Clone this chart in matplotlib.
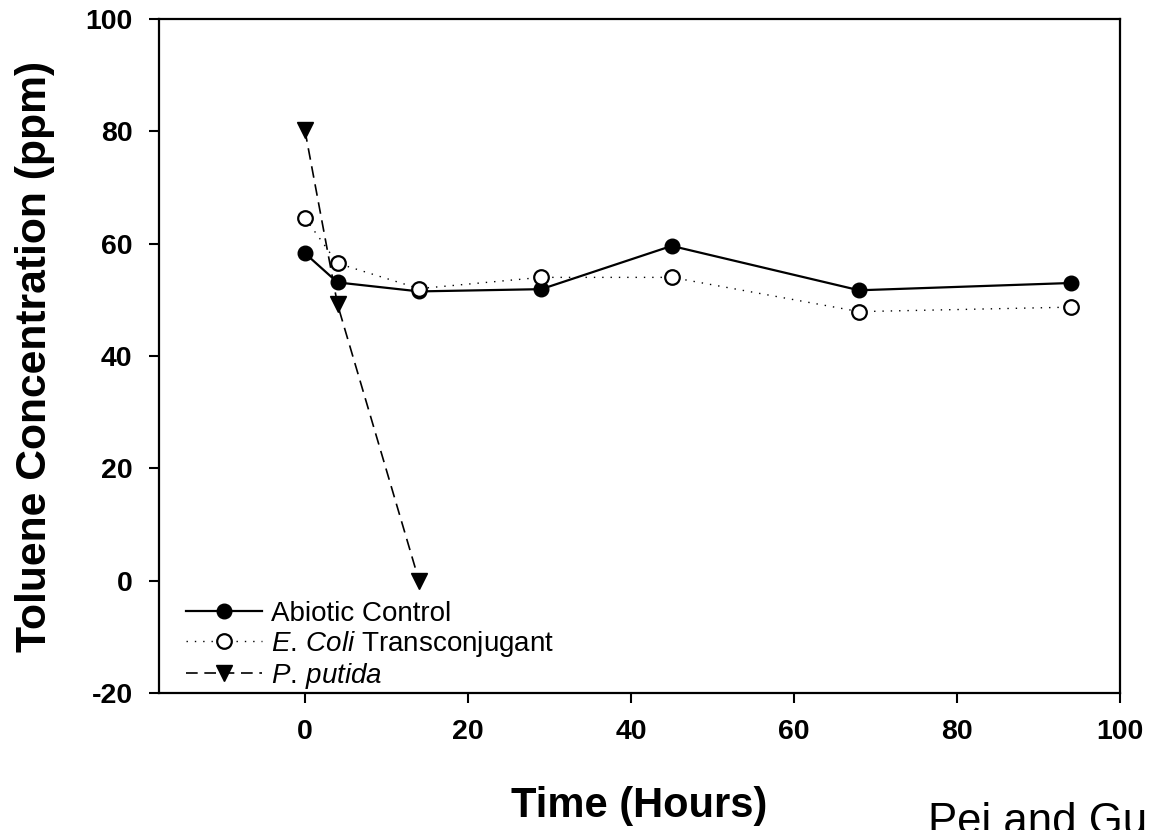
import numpy as np
import matplotlib
matplotlib.use('Agg')
import matplotlib.pyplot as plt

plt.rcParams['font.family'] = ['Liberation Sans', 'DejaVu Sans']
plt.rcParams['mathtext.fontset'] = 'custom'
plt.rcParams['mathtext.rm'] = 'Liberation Sans'
plt.rcParams['mathtext.it'] = 'Liberation Sans:italic'
plt.rcParams['axes.unicode_minus'] = False

# sampling times (hours) and toluene concentrations (ppm)
t_abiotic = [0, 4, 14, 29, 45, 68, 94]
c_abiotic = [58.3, 53.1, 51.5, 51.9, 59.6, 51.7, 53.0]
t_ecoli = [0, 4, 14, 29, 45, 68, 94]
c_ecoli = [64.6, 56.5, 52.0, 54.0, 54.0, 47.9, 48.7]
t_putida = [0, 4, 14]
c_putida = [80.2, 49.2, 0.0]

labels = ['Abiotic Control', r'$\mathit{E.\,Coli}$ Transconjugant', r'$\mathit{P.\,putida}$']
xticks = [0, 20, 40, 60, 80, 100]
yticks = [-20, 0, 20, 40, 60, 80, 100]

fig = plt.figure(figsize=(11.5, 8.3), dpi=100)
ax = fig.add_axes([159/1150, 1-693/830, (1120-159)/1150, (693-19)/830])

ax.plot(t_abiotic, c_abiotic, '-', color='k', lw=1.6, marker='o', ms=10.5,
        mfc='k', mec='k', label=labels[0])
ax.plot(t_ecoli, c_ecoli, color='k', lw=1.0, dashes=(1, 5), marker='o', ms=10.5,
        mfc='white', mec='k', mew=1.6, label=labels[1])
ax.plot(t_putida, c_putida, color='k', lw=1.2, dashes=(7, 4), marker='v', ms=11,
        mfc='k', mec='k', label=labels[2])

ax.set_xlim(-17.9, 100)
ax.set_ylim(-20, 100)
ax.set_xticks(xticks)
ax.set_yticks(yticks)
ax.tick_params(direction='out', length=7, width=1.5, pad=12, labelsize=20.5)
for lab in ax.get_xticklabels() + ax.get_yticklabels():
    lab.set_fontweight('bold')
for s in ax.spines.values():
    s.set_linewidth(1.6)

fig.text(639.5/1150, 1-806/830, 'Time (Hours)', fontsize=30, fontweight='bold',
         ha='center', va='center')
fig.text(35/1150, 1-356/830, 'Toluene Concentration (ppm)', fontsize=30.7,
         fontweight='bold', rotation=90, ha='center', va='center')
fig.text(928/1150, 1-834/830, 'Pei and Gu', fontsize=31.5, ha='left', va='baseline')

ax.legend(loc='lower left', bbox_to_anchor=(0.028, 0.003), frameon=False,
          fontsize=20, handlelength=2.75, handletextpad=0.3, labelspacing=0.08,
          borderpad=0, borderaxespad=0)

fig.savefig('out.png', dpi=100)
